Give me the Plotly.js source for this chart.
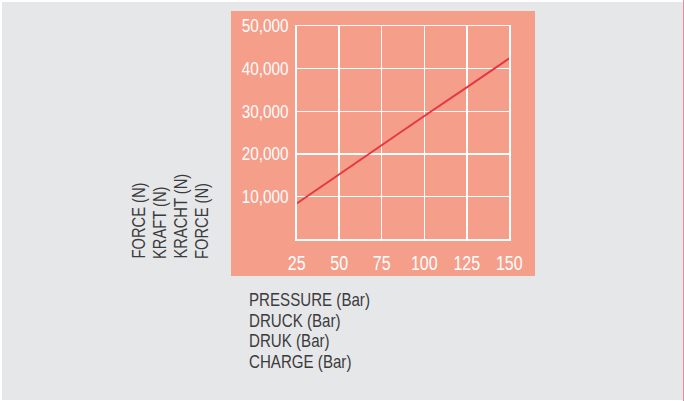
<!DOCTYPE html>
<html>
<head>
<meta charset="utf-8">
<script src="https://cdn.plot.ly/plotly-3.0.1.min.js"></script>
<style>
  html, body { margin: 0; padding: 0; background: #ffffff; }
  #chart { width: 684px; height: 401px; }
</style>
</head>
<body>
<div id="chart"></div>
<script>
// Cylinder force against working pressure
const pressure = [25, 50, 75, 100, 125, 150];          // Bar
const force = [8400, 15300, 22100, 28900, 35600, 42400]; // N

const xTickVals = [25, 50, 75, 100, 125, 150];
const xTickText = ['25', '50', '75', '100', '125', '150'];
const yTickVals = [10000, 20000, 30000, 40000, 50000];
const yTickText = ['10,000', '20,000', '30,000', '40,000', '50,000'];

const xTitleLines = ['PRESSURE (Bar)', 'DRUCK (Bar)', 'DRUK (Bar)', 'CHARGE (Bar)'];
const yTitleLines = ['FORCE (N)', 'KRAFT (N)', 'KRACHT (N)', 'FORCE (N)'];

const W = 684, H = 401;
const px = v => v / W;          // pixel -> paper x
const py = v => 1 - v / H;      // pixel (from top) -> paper y

const sans = '"Liberation Sans", Arial, Helvetica, sans-serif';
const salmon = '#f59e8a';
const titleColor = '#3b3b3d';

const trace = {
  x: pressure,
  y: force,
  type: 'scatter',
  mode: 'lines',
  line: { color: '#e63843', width: 2 },
  hoverinfo: 'skip'
};

// Multilingual axis captions, one line each
const annotations = [];
const xLineY = [300, 320.5, 341, 361.5];
xTitleLines.forEach((t, i) => {
  annotations.push({
    xref: 'paper', yref: 'paper',
    x: px(246.5), y: py(xLineY[i]),
    xanchor: 'left', yanchor: 'middle',
    text: t, showarrow: false, name: 'xcap',
    font: { family: sans, size: 18, color: titleColor }
  });
});
const yLineX = [139.5, 160, 181, 202];
yTitleLines.forEach((t, i) => {
  annotations.push({
    xref: 'paper', yref: 'paper',
    x: px(yLineX[i]), y: py(261),
    xanchor: 'center', yanchor: 'bottom',
    textangle: -90,
    text: t, showarrow: false, name: 'ycap',
    font: { family: sans, size: 17.5, color: titleColor }
  });
});

const layout = {
  width: W, height: H,
  margin: { l: 0, r: 0, t: 0, b: 0 },
  paper_bgcolor: '#ffffff',
  plot_bgcolor: salmon,
  showlegend: false,
  xaxis: {
    domain: [px(296.7), px(509.3)],
    range: [25, 150],
    tickvals: xTickVals,
    ticktext: xTickText,
    ticks: '',
    ticklabelstandoff: 6,
    tickfont: { family: sans, size: 19.5, color: '#ffffff' },
    showgrid: true, gridcolor: '#ffffff', gridwidth: 1.5,
    showline: true, mirror: true, linecolor: '#ffffff', linewidth: 1.5,
    zeroline: false, fixedrange: true
  },
  yaxis: {
    domain: [1 - 239.3 / H, 1 - 26 / H],
    range: [0, 50000],
    tickvals: yTickVals,
    ticktext: yTickText,
    ticks: '',
    ticklabelstandoff: 3,
    tickfont: { family: sans, size: 18, color: '#ffffff' },
    showgrid: true, gridcolor: '#ffffff', gridwidth: 1.5,
    showline: true, mirror: true, linecolor: '#ffffff', linewidth: 1.5,
    zeroline: false, fixedrange: true
  },
  shapes: [
    // grey page
    { type: 'rect', xref: 'paper', yref: 'paper', layer: 'below',
      x0: px(2), x1: px(683), y0: py(400), y1: py(2),
      fillcolor: '#e6e7e9', line: { width: 0 } },
    // thin rule at the right edge
    { type: 'line', xref: 'paper', yref: 'paper', layer: 'below',
      x0: px(683.5), x1: px(683.5), y0: 0, y1: 1,
      line: { color: '#e58b9c', width: 1 } },
    // salmon panel behind the chart
    { type: 'rect', xref: 'paper', yref: 'paper', layer: 'below',
      x0: px(231), x1: px(535), y0: py(276), y1: py(11),
      fillcolor: salmon, line: { width: 0 } }
  ],
  annotations: annotations
};

// Condensed lettering: squeeze text horizontally about a fixed edge
function condense(sel, factor, edge) {
  document.querySelectorAll(sel).forEach(el => {
    const b = el.getBBox();
    const cx = edge === 'start' ? b.x : edge === 'end' ? b.x + b.width : b.x + b.width / 2;
    const old = el.getAttribute('transform') || '';
    el.setAttribute('transform',
      old + ` translate(${cx},0) scale(${factor},1) translate(${-cx},0)`);
  });
}

Plotly.newPlot('chart', [trace], layout, { displayModeBar: false, staticPlot: true })
  .then(() => {
    condense('#chart .xtick text', 0.82, 'middle');
    condense('#chart .ytick text', 0.85, 'end');
    condense('#chart .annotation-text', 0.84, 'start');
  });
</script>
</body>
</html>
